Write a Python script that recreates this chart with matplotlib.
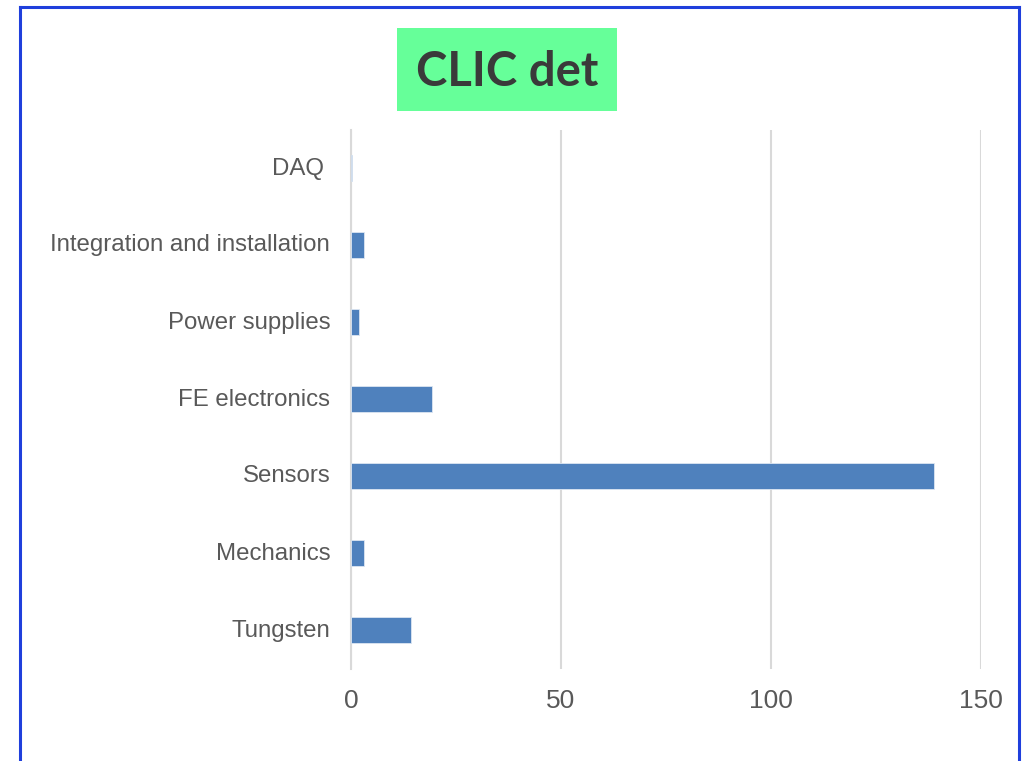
import matplotlib
matplotlib.use("Agg")
import matplotlib.pyplot as plt
from matplotlib.lines import Line2D
from matplotlib.patches import Rectangle
from matplotlib.transforms import ScaledTranslation

categories = ["Tungsten", "Mechanics", "Sensors", "FE electronics",
              "Power supplies", "Integration and installation", "DAQ "]
values = [14.3, 3.0, 138.7, 19.2, 1.9, 3.1, 0.3]
xticks = [0, 50, 100, 150]
title = "CLIC det"

W, H = 1025, 761
fig = plt.figure(figsize=(W / 100, H / 100), dpi=100)
fig.patch.set_facecolor("white")

# outer blue frame
fc = "#1f3fdc"
for xs, ys in [([20 / W, 20 / W], [1 - 7 / H, -0.01]),
               ([20 / W, 1019 / W], [1 - 7 / H, 1 - 7 / H]),
               ([1019 / W, 1019 / W], [1 - 7 / H, -0.01])]:
    fig.add_artist(Line2D(xs, ys, color=fc, lw=2.2, transform=fig.transFigure))

ax = fig.add_axes([351 / W, 1 - 668.5 / H, (981 - 351) / W, (668.5 - 129.5) / H])
ax.barh(range(len(categories)), values, height=0.35, color="#4f81bd",
        edgecolor="#dce6f2", linewidth=0.6, zorder=3)
ax.set_xlim(0, 150)
ax.set_ylim(-0.5, len(categories) - 0.5)
ax.set_xticks(xticks)
ax.set_yticks(range(len(categories)))
ax.set_yticklabels(categories)
ax.grid(axis="x", color="#d9d9d9", lw=1.5, zorder=0)
for s in ["top", "right", "bottom"]:
    ax.spines[s].set_visible(False)
ax.spines["left"].set_color("#d9d9d9")
ax.spines["left"].set_linewidth(1.5)
ax.tick_params(axis="both", length=0)
ax.tick_params(axis="x", labelsize=19, labelcolor="#595959", pad=15)
ax.tick_params(axis="y", labelsize=17.3, labelcolor="#595959", pad=15)
for lab in ax.get_xticklabels():
    lab.set_fontfamily("Liberation Sans")
shift = ScaledTranslation(0, 2 / 100, fig.dpi_scale_trans)
for lab in ax.get_yticklabels():
    lab.set_fontfamily("Liberation Sans")
    lab.set_va("center_baseline")
    lab.set_transform(lab.get_transform() + shift)

# title box
fig.add_artist(Rectangle((397 / W, 1 - 111 / H), (617 - 397) / W, (111 - 28) / H,
                         facecolor="#66ff99", edgecolor="none", transform=fig.transFigure))
fig.text(507 / W, 1 - 72 / H, title, ha="center", va="center", fontsize=34,
         fontweight="bold", color="#3a3a3a", family="Lato")

fig.savefig("out.png", dpi=100)
